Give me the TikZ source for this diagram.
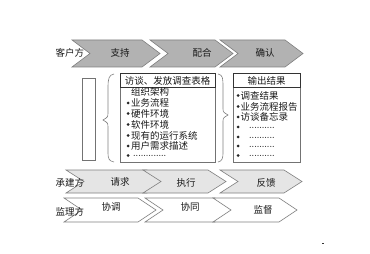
\documentclass[tikz,border=0pt]{standalone}
\usepackage{fontspec}
\newfontfamily\cjk{Noto Sans CJK SC}
\tikzset{
  chevline/.style={draw=black!50, line width=0.6pt, line join=miter},
  rowone/.style={chevline, fill=black!30},
  rowtwo/.style={chevline, fill=black!10},
  rowthree/.style={chevline, fill=white},
  lbl/.style={font=\cjk\fontsize{9.5}{10}\selectfont, text=black!90, inner sep=0pt},
  item/.style={font=\cjk\fontsize{9.5}{10}\selectfont, text=black!90, inner sep=0pt, anchor=west},
  dotsitem/.style={font=\bfseries\fontsize{7}{8}\selectfont, text=black!85, inner sep=0pt, anchor=west},
  bul/.style={fill=black!85, circle, inner sep=0pt, minimum size=3pt},
  outerbox/.style={draw=black!55, line width=0.6pt},
  headbox/.style={draw=black!80, line width=0.7pt},
  bracel/.style={draw=black!50, line width=0.6pt},
}
\newcommand\mychev[5]{\path[#5] (#1,#3) -- ({#2-18},#3) -- (#2,{(#3+#4)/2}) -- ({#2-18},#4) -- (#1,#4) -- ({#1+18},{(#3+#4)/2}) -- cycle;}
\begin{document}
\begin{tikzpicture}[x=1pt,y=-1pt]
\useasboundingbox[fill=white] (0,0) rectangle (370,254);
% row 1
\mychev{72}{160}{40}{67}{rowone}
\mychev{150}{233}{40}{67}{rowone}
\mychev{220}{303}{40}{67}{rowone}
\node[lbl] (khf) at (70,53) {客户方};
\node[lbl] (zc) at (120,53) {支持};
\node[lbl] (ph) at (202,53) {配合};
\node[lbl] (qr) at (265,53) {确认};
% row 2
\mychev{66}{165}{170}{193}{rowtwo}
\mychev{143}{226}{170}{193}{rowtwo}
\mychev{220}{302}{170}{193}{rowtwo}
\node[lbl] (cjf) at (70,183) {承建方};
\node[lbl] (qq) at (120,182) {请求};
\node[lbl] (zx) at (186,183) {执行};
\node[lbl] (fk) at (266,183) {反馈};
% row 3
\mychev{64}{156}{198}{222}{rowthree}
\mychev{145}{233}{198}{222}{rowthree}
\mychev{213}{297}{198}{222}{rowthree}
\node[lbl] (jlf) at (70,212) {监理方};
\node[lbl] (xt) at (111,207) {协调};
\node[lbl] (xtong) at (190,207) {协同};
\node[lbl] (jd) at (263,210) {监督};
% middle
\draw[outerbox] (82,78) rectangle (95,160);
\draw[bracel] (114,74) .. controls (109,75) and (108,78) .. (108,88) -- (108,112) .. controls (108,117) .. (103,120) .. controls (108,123) .. (108,128) -- (108,152) .. controls (108,159) and (109,161) .. (114,162);
\draw[bracel] (218,74) .. controls (223,75) and (223,78) .. (223,88) -- (223,108) .. controls (223,112) .. (228,115) .. controls (223,118) .. (223,122) -- (223,152) .. controls (223,159) and (222,161) .. (218,162);
\draw[outerbox] (120,73) rectangle (215,162);
\draw[headbox] (120,73) rectangle (215,87);
\node[lbl] (hd1) at (167.5,80.5) {访谈、发放调查表格};
\draw[outerbox] (233,73) rectangle (300,162);
\draw[headbox] (233,73) rectangle (300,87);
\node[lbl] (hd2) at (266.5,80.5) {输出结果};
% left list
\node[item] (l1) at (131,92) {组织架构};
\foreach \yy/\tt [count=\i] in {103/业务流程,113.5/硬件环境,124.5/软件环境,135.5/现有的运行系统,146/用户需求描述}{
  \node[bul] (lb\i) at (128,\yy) {};
  \node[item] (li\i) at (131,\yy) {\tt};
}
\node[bul] (lb6) at (128,155.5) {};
\node[dotsitem] (ld) at (133,156) {.............};
% right list
\foreach \yy/\tt [count=\i] in {95.5/调查结果,106.5/业务流程报告,117/访谈备忘录}{
  \node[bul] (rb\i) at (238,\yy) {};
  \node[item] (ri\i) at (240.5,\yy) {\tt};
}
\foreach \yy [count=\i] in {127,137,146,155.5}{
  \node[bul] (rd\i) at (238,\yy) {};
  \node[dotsitem] (rt\i) at (249,\yy+0.5) {..........};
}
\fill[black!80] (322,242.5) rectangle (324,244);
\end{tikzpicture}
\end{document}
